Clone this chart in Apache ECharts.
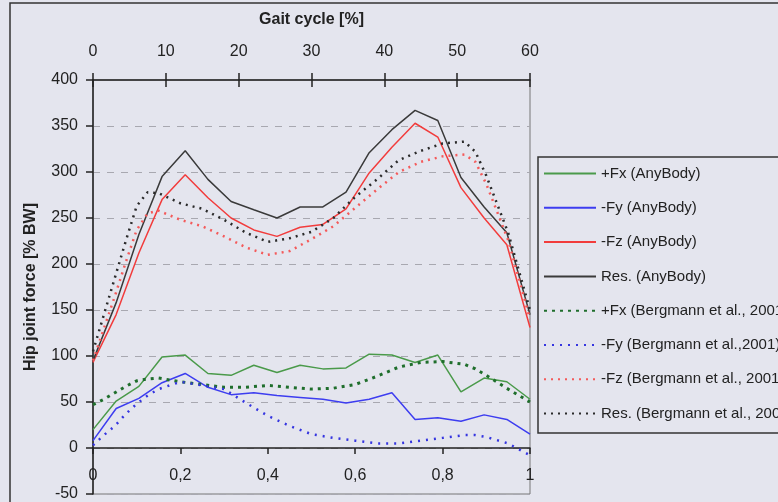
<!DOCTYPE html>
<html>
<head>
<meta charset="utf-8">
<script src="https://cdn.jsdelivr.net/npm/echarts@6/dist/echarts.min.js"></script>
<style>
  html, body { margin: 0; padding: 0; background: #e4e5ee; }
  #chart { width: 778px; height: 502px; }
</style>
</head>
<body>
<div id="chart"></div>
<script>
// AnyBody samples (fraction of the recorded cycle)
let anyX = [0, 0.053, 0.105, 0.158, 0.211, 0.263, 0.316, 0.368, 0.421, 0.474,
            0.526, 0.579, 0.632, 0.684, 0.737, 0.789, 0.842, 0.895, 0.947, 1];
let anyFx  = [20, 51, 67, 99, 101, 81, 79, 90, 82, 90, 86, 87, 102, 101, 93, 101, 61, 76, 72, 53];
let anyFy  = [8, 43, 54, 71, 81, 66, 58, 60, 57, 55, 53, 49, 53, 60, 31, 33, 29, 36, 31, 15];
let anyFz  = [93, 145, 212, 270, 297, 272, 250, 237, 230, 240, 243, 260, 299, 327, 353, 338, 283, 250, 221, 131];
let anyRes = [95, 158, 232, 295, 323, 292, 268, 259, 250, 262, 262, 278, 321, 346, 367, 356, 294, 262, 234, 145];

// Bergmann et al. 2001 samples
let berX = [0, 0.025, 0.05, 0.075, 0.1, 0.125, 0.15, 0.2, 0.25, 0.3, 0.35, 0.4, 0.45,
            0.5, 0.55, 0.6, 0.65, 0.7, 0.75, 0.8, 0.85, 0.875, 0.9, 0.95, 1];
let berFx  = [47, 53, 60, 67, 73, 75, 76, 72, 69, 66, 66, 68, 66, 64, 65, 69, 78, 88, 93, 94, 91, 86, 79, 64, 50];
let berFy  = [3, 14, 24, 37, 48, 57, 64, 72, 68, 64, 49, 35, 24, 15, 11, 8, 5, 5, 8, 11, 14, 14, 12, 5, -8];
let berFz  = [95, 130, 165, 202, 237, 255, 258, 248, 241, 230, 218, 210, 214, 227, 241, 261, 281, 300, 311, 317, 319, 311, 287, 226, 140];
let berRes = [105, 145, 185, 225, 263, 278, 277, 266, 260, 248, 234, 224, 228, 235, 250, 273, 292, 313, 323, 331, 333, 322, 296, 234, 150];

let gaitTicks = [0, 60];   // top axis range in %
let forceRange = [-50, 400];

let font = 'Liberation Sans';

function pairs(xs, ys){
  return xs.map(function(x, i){ return [x, ys[i]]; });
}

function lineSeries(name, xs, ys, color, width, type){
  return {
    name: name,
    type: 'line',
    xAxisIndex: 0,
    yAxisIndex: 0,
    data: pairs(xs, ys),
    symbol: 'none',
    smooth: false,
    lineStyle: { color: color, width: width, type: type },
    itemStyle: { color: color },
    z: 3
  };
}

let myChart = echarts.init(document.getElementById('chart'));

// plot box: 80..494 px tall, zero line sits 46px above the bottom edge
let gridTop = 80, gridBottom = 8;
let plotH = 502 - gridTop - gridBottom;
let zeroOffset = -Math.round(plotH * (0 - forceRange[0]) / (forceRange[1] - forceRange[0]));

let options = {
  backgroundColor: '#e4e5ee',
  animation: false,
  textStyle: { fontFamily: font },
  grid: {
    left: 93,
    right: 248,
    top: gridTop,
    bottom: gridBottom,
    show: true,
    borderColor: '#777',
    borderWidth: 1,
    backgroundColor: 'transparent'
  },
  graphic: [
    {
      type: 'rect',
      shape: { x: 10, y: 3, width: 800, height: 540 },
      style: { fill: null, stroke: '#333', lineWidth: 1.5 },
      silent: true
    }
  ],
  legend: {
    orient: 'vertical',
    left: 538,
    top: 157,
    padding: [9, 10, 12, 5],
    itemWidth: 52,
    itemHeight: 14,
    itemGap: 19.3,
    borderColor: '#333',
    borderWidth: 1.5,
    itemStyle: { opacity: 0 },
    textStyle: { fontFamily: font, fontSize: 15, color: '#222' },
    data: [
      '+Fx (AnyBody)', '-Fy (AnyBody)', '-Fz (AnyBody)', 'Res. (AnyBody)',
      '+Fx (Bergmann et al., 2001)', '-Fy (Bergmann et al.,2001)',
      '-Fz (Bergmann et al., 2001)', 'Res. (Bergmann et al., 2001)'
    ]
  },
  xAxis: [
    {
      type: 'value',
      position: 'bottom',
      offset: zeroOffset,
      min: 0,
      max: 1,
      interval: 0.2,
      axisLine: { onZero: false, lineStyle: { color: '#222', width: 1.5 } },
      axisTick: { show: true, length: 6, lineStyle: { color: '#222', width: 1.5 } },
      axisLabel: {
        margin: 20,
        fontSize: 16,
        color: '#222',
        fontFamily: font,
        formatter: function(v){ return String(Math.round(v * 10) / 10).replace('.', ','); }
      },
      splitLine: { show: false }
    },
    {
      type: 'value',
      position: 'top',
      min: gaitTicks[0],
      max: gaitTicks[1],
      interval: 10,
      name: 'Gait cycle [%]',
      nameLocation: 'middle',
      nameGap: 52,
      nameTextStyle: { fontSize: 16, fontWeight: 'bold', color: '#222', fontFamily: font },
      axisLine: { onZero: false, lineStyle: { color: '#222', width: 1.5 } },
      axisTick: { show: true, length: 7, lineStyle: { color: '#222', width: 1.5 } },
      axisLabel: { margin: 20, fontSize: 16, color: '#222', fontFamily: font },
      splitLine: { show: false }
    },
    {
      type: 'value',
      position: 'top',
      min: gaitTicks[0],
      max: gaitTicks[1],
      interval: 10,
      axisLine: { show: false, onZero: false },
      axisTick: { show: true, inside: true, length: 7, lineStyle: { color: '#222', width: 1.5 } },
      axisLabel: { show: false },
      splitLine: { show: false }
    }
  ],
  yAxis: [
    {
      type: 'value',
      min: forceRange[0],
      max: forceRange[1],
      interval: 50,
      name: 'Hip joint force [% BW]',
      nameLocation: 'middle',
      nameGap: 54,
      nameRotate: 90,
      nameTextStyle: { fontSize: 16, fontWeight: 'bold', color: '#222', fontFamily: font },
      axisLine: { show: true, onZero: false, lineStyle: { color: '#222', width: 1.5 } },
      axisTick: { show: true, length: 7, lineStyle: { color: '#222', width: 1.5 } },
      axisLabel: { margin: 15, fontSize: 16, color: '#222', fontFamily: font },
      splitLine: {
        show: true,
        lineStyle: { color: '#a8a8b0', type: [7, 7], width: 1 }
      }
    }
  ],
  series: [
    lineSeries('+Fx (AnyBody)', anyX, anyFx, '#4a9a4a', 1.5, 'solid'),
    lineSeries('-Fy (AnyBody)', anyX, anyFy, '#3d3df0', 1.5, 'solid'),
    lineSeries('-Fz (AnyBody)', anyX, anyFz, '#f23c3c', 1.5, 'solid'),
    lineSeries('Res. (AnyBody)', anyX, anyRes, '#3a3a3a', 1.5, 'solid'),
    lineSeries('+Fx (Bergmann et al., 2001)', berX, berFx, '#1f6e2c', 3, [3, 5]),
    lineSeries('-Fy (Bergmann et al.,2001)', berX, berFy, '#3535e0', 2.5, [2, 6]),
    lineSeries('-Fz (Bergmann et al., 2001)', berX, berFz, '#f45a5a', 2.5, [2, 5]),
    lineSeries('Res. (Bergmann et al., 2001)', berX, berRes, '#2a2a2a', 2.5, [2, 5])
  ]
};

myChart.setOption(options);
</script>
</body>
</html>
